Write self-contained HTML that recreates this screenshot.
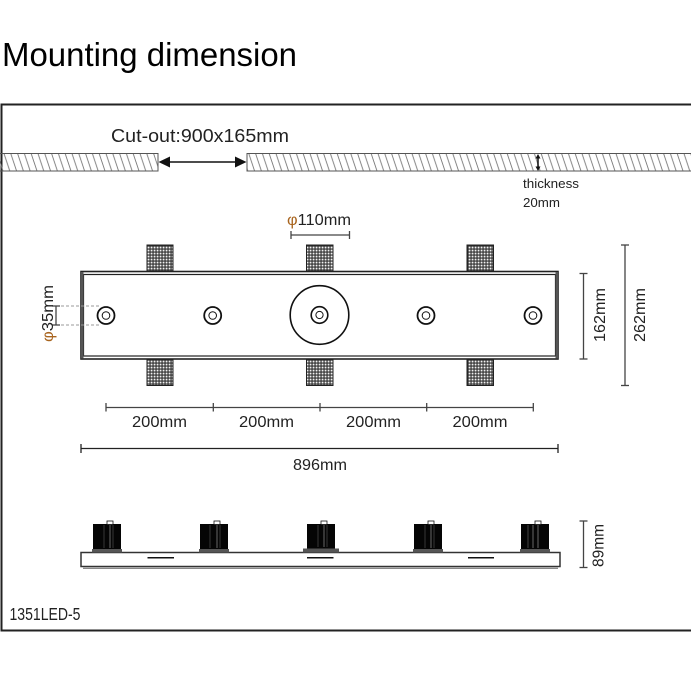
<!DOCTYPE html>
<html><head><meta charset="utf-8"><style>
html,body{margin:0;padding:0;background:#fff;}
svg{display:block;}
text{font-family:"Liberation Sans",sans-serif;fill:#222;}
</style></head><body>
<svg width="691" height="691" viewBox="0 0 691 691" xmlns="http://www.w3.org/2000/svg">
<defs>
<pattern id="hatch" x="0" y="153" width="6.8" height="18" patternUnits="userSpaceOnUse">
<line x1="-3" y1="0" x2="3" y2="18" stroke="#777" stroke-width="0.9"/>
<line x1="3.8" y1="0" x2="9.8" y2="18" stroke="#777" stroke-width="0.9"/>
</pattern>
<pattern id="grid" x="0" y="0" width="3" height="3" patternUnits="userSpaceOnUse">
<rect width="3" height="3" fill="#2a2a2a"/>
<rect x="0.6" y="0.6" width="1.9" height="1.9" fill="#f2f2f2"/>
</pattern>
</defs>

<!-- title -->
<text x="2" y="66" font-size="33" textLength="295" lengthAdjust="spacingAndGlyphs" style="fill:#000">Mounting dimension</text>

<!-- frame -->
<path d="M700 104.5 H1.5 V630.5 H700" fill="none" stroke="#222" stroke-width="2"/>

<!-- ceiling -->
<rect x="-2" y="153.5" width="160" height="17.5" fill="url(#hatch)" stroke="#555" stroke-width="1"/>
<rect x="247" y="153.5" width="460" height="17.5" fill="url(#hatch)" stroke="#555" stroke-width="1"/>
<text x="111" y="142" font-size="18" textLength="178" lengthAdjust="spacingAndGlyphs">Cut-out:900x165mm</text>
<line x1="165" y1="162" x2="240" y2="162" stroke="#111" stroke-width="1.5"/>
<polygon points="158.5,162 170,156.5 170,167.5" fill="#111"/>
<polygon points="246.5,162 235,156.5 235,167.5" fill="#111"/>
<!-- thickness -->
<line x1="538" y1="156" x2="538" y2="169" stroke="#111" stroke-width="1.5"/>
<polygon points="538,154 535.5,158.5 540.5,158.5" fill="#111"/>
<polygon points="538,171 535.5,166.5 540.5,166.5" fill="#111"/>
<text x="523" y="188" font-size="12.5" textLength="56" lengthAdjust="spacingAndGlyphs">thickness</text>
<text x="523" y="207" font-size="12.5" textLength="37" lengthAdjust="spacingAndGlyphs">20mm</text>

<!-- phi110 -->
<text x="287" y="225" font-size="15.5" textLength="64" lengthAdjust="spacingAndGlyphs"><tspan style="fill:#a8641e">φ</tspan>110mm</text>
<g stroke="#444" stroke-width="1.3">
<line x1="291" y1="235" x2="349.5" y2="235"/>
<line x1="291" y1="231" x2="291" y2="239"/>
<line x1="349.5" y1="231" x2="349.5" y2="239"/>
</g>

<!-- brackets -->
<g stroke="#222" stroke-width="1" fill="url(#grid)">
<rect x="147" y="245" width="26" height="26.5"/>
<rect x="306.5" y="245" width="26.5" height="26.5"/>
<rect x="467" y="245" width="26.5" height="26.5"/>
<rect x="147" y="359" width="26" height="26.5"/>
<rect x="306.5" y="359" width="26.5" height="26.5"/>
<rect x="467" y="359" width="26.5" height="26.5"/>
</g>

<!-- main body -->
<rect x="81" y="271.5" width="477" height="87.5" fill="#fff" stroke="#222" stroke-width="1.6"/>
<rect x="83.5" y="274.5" width="472" height="81.5" fill="#fff" stroke="#222" stroke-width="1.2"/>
<rect x="81" y="272" width="2.5" height="86.5" fill="#555"/>
<rect x="555.5" y="272" width="2.5" height="86.5" fill="#555"/>

<!-- holes -->
<g fill="none" stroke="#111">
<circle cx="106" cy="315.5" r="8.5" stroke-width="1.8"/><circle cx="106" cy="315.5" r="3.8" stroke-width="1"/>
<circle cx="212.7" cy="315.5" r="8.5" stroke-width="1.8"/><circle cx="212.7" cy="315.5" r="3.8" stroke-width="1"/>
<circle cx="426" cy="315.5" r="8.5" stroke-width="1.8"/><circle cx="426" cy="315.5" r="3.8" stroke-width="1"/>
<circle cx="533" cy="315.5" r="8.5" stroke-width="1.8"/><circle cx="533" cy="315.5" r="3.8" stroke-width="1"/>
<circle cx="319.5" cy="315" r="29.3" stroke-width="1.6"/>
<circle cx="319.5" cy="315" r="8.3" stroke-width="1.6"/>
<circle cx="319.5" cy="315" r="3.6" stroke-width="1"/>
</g>

<!-- phi35 -->
<g stroke="#999" stroke-width="1" stroke-dasharray="3,2">
<line x1="56" y1="306" x2="100" y2="306"/>
<line x1="56" y1="325" x2="100" y2="325"/>
</g>
<g stroke="#444" stroke-width="1.3">
<line x1="56" y1="306" x2="56" y2="325"/>
<line x1="52" y1="306" x2="60" y2="306"/>
<line x1="52" y1="325" x2="60" y2="325"/>
</g>
<text transform="translate(53,342) rotate(-90)" font-size="16" textLength="57" lengthAdjust="spacingAndGlyphs"><tspan style="fill:#a8641e">φ</tspan>35mm</text>

<!-- 162 / 262 -->
<g stroke="#444" stroke-width="1.3">
<line x1="583.5" y1="273.5" x2="583.5" y2="359"/>
<line x1="579.5" y1="273.5" x2="587.5" y2="273.5"/>
<line x1="579.5" y1="359" x2="587.5" y2="359"/>
<line x1="625" y1="245" x2="625" y2="385.5"/>
<line x1="621" y1="245" x2="629" y2="245"/>
<line x1="621" y1="385.5" x2="629" y2="385.5"/>
</g>
<text transform="translate(605,342) rotate(-90)" font-size="16" textLength="54" lengthAdjust="spacingAndGlyphs">162mm</text>
<text transform="translate(645,342) rotate(-90)" font-size="16" textLength="54" lengthAdjust="spacingAndGlyphs">262mm</text>

<!-- 200mm dims -->
<g stroke="#444" stroke-width="1.3">
<line x1="106" y1="407.5" x2="533.3" y2="407.5"/>
<line x1="106" y1="403" x2="106" y2="411.5"/>
<line x1="213.3" y1="403" x2="213.3" y2="411.5"/>
<line x1="320" y1="403" x2="320" y2="411.5"/>
<line x1="426.7" y1="403" x2="426.7" y2="411.5"/>
<line x1="533.3" y1="403" x2="533.3" y2="411.5"/>
</g>
<text x="132" y="427" font-size="16" textLength="55" lengthAdjust="spacingAndGlyphs">200mm</text>
<text x="239" y="427" font-size="16" textLength="55" lengthAdjust="spacingAndGlyphs">200mm</text>
<text x="346" y="427" font-size="16" textLength="55" lengthAdjust="spacingAndGlyphs">200mm</text>
<text x="452.5" y="427" font-size="16" textLength="55" lengthAdjust="spacingAndGlyphs">200mm</text>

<!-- 896 -->
<g stroke="#222" stroke-width="1.3">
<line x1="81" y1="448.5" x2="558" y2="448.5"/>
<line x1="81" y1="444" x2="81" y2="453"/>
<line x1="558" y1="444" x2="558" y2="453"/>
</g>
<text x="293" y="470" font-size="16" textLength="54" lengthAdjust="spacingAndGlyphs">896mm</text>

<!-- side view -->
<rect x="81" y="552.5" width="479" height="14" fill="#fff" stroke="#333" stroke-width="1.5"/>
<line x1="83" y1="568.3" x2="558" y2="568.3" stroke="#777" stroke-width="1.2"/>
<g stroke="#111" stroke-width="1.5">
<line x1="147.5" y1="557.8" x2="174" y2="557.8"/>
<line x1="307" y1="557.8" x2="333.5" y2="557.8"/>
<line x1="468" y1="557.8" x2="494" y2="557.8"/>
</g>
<g>
<!-- block 1 -->
<rect x="93" y="524" width="28" height="28" fill="#050505"/>
<rect x="92" y="549" width="30" height="3.5" fill="#555"/>
<line x1="104" y1="525" x2="104" y2="548" stroke="#444" stroke-width="0.8"/>
<line x1="110" y1="525" x2="110" y2="548" stroke="#666" stroke-width="1"/>
<line x1="113" y1="525" x2="113" y2="548" stroke="#444" stroke-width="0.8"/>
<rect x="107" y="521" width="6" height="3.5" fill="#fff" stroke="#111" stroke-width="0.8"/>
<!-- block 2 -->
<rect x="200" y="524" width="28" height="28" fill="#050505"/>
<rect x="199" y="549" width="30" height="3.5" fill="#555"/>
<line x1="210" y1="525" x2="210" y2="548" stroke="#444" stroke-width="0.8"/>
<line x1="217" y1="525" x2="217" y2="548" stroke="#666" stroke-width="1"/>
<line x1="220" y1="525" x2="220" y2="548" stroke="#444" stroke-width="0.8"/>
<rect x="214" y="521" width="6" height="3.5" fill="#fff" stroke="#111" stroke-width="0.8"/>
<!-- block 3 -->
<rect x="307" y="524" width="28" height="27" fill="#050505"/>
<rect x="303" y="548.5" width="36" height="4" fill="#555"/>
<line x1="318" y1="525" x2="318" y2="547" stroke="#444" stroke-width="0.8"/>
<line x1="324" y1="525" x2="324" y2="547" stroke="#666" stroke-width="1"/>
<line x1="327" y1="525" x2="327" y2="547" stroke="#444" stroke-width="0.8"/>
<rect x="321" y="521" width="6" height="3.5" fill="#fff" stroke="#111" stroke-width="0.8"/>
<!-- block 4 -->
<rect x="414" y="524" width="28" height="28" fill="#050505"/>
<rect x="413" y="549" width="30" height="3.5" fill="#555"/>
<line x1="425" y1="525" x2="425" y2="548" stroke="#444" stroke-width="0.8"/>
<line x1="431" y1="525" x2="431" y2="548" stroke="#666" stroke-width="1"/>
<line x1="434" y1="525" x2="434" y2="548" stroke="#444" stroke-width="0.8"/>
<rect x="428" y="521" width="6" height="3.5" fill="#fff" stroke="#111" stroke-width="0.8"/>
<!-- block 5 -->
<rect x="521" y="524" width="28" height="28" fill="#050505"/>
<rect x="520" y="549" width="30" height="3.5" fill="#555"/>
<line x1="528" y1="525" x2="528" y2="548" stroke="#555" stroke-width="0.8"/>
<line x1="533" y1="525" x2="533" y2="548" stroke="#666" stroke-width="1"/>
<line x1="538" y1="525" x2="538" y2="548" stroke="#666" stroke-width="1"/>
<rect x="535" y="521" width="6" height="3.5" fill="#fff" stroke="#111" stroke-width="0.8"/>
</g>

<!-- 89mm -->
<g stroke="#444" stroke-width="1.3">
<line x1="583.5" y1="521" x2="583.5" y2="567.5"/>
<line x1="579.5" y1="521" x2="587.5" y2="521"/>
<line x1="579.5" y1="567.5" x2="587.5" y2="567.5"/>
</g>
<text transform="translate(603.5,567) rotate(-90)" font-size="16" textLength="43" lengthAdjust="spacingAndGlyphs">89mm</text>

<!-- model -->
<text x="9.5" y="620" font-size="17.5" textLength="71" lengthAdjust="spacingAndGlyphs">1351LED-5</text>
</svg>
</body></html>
